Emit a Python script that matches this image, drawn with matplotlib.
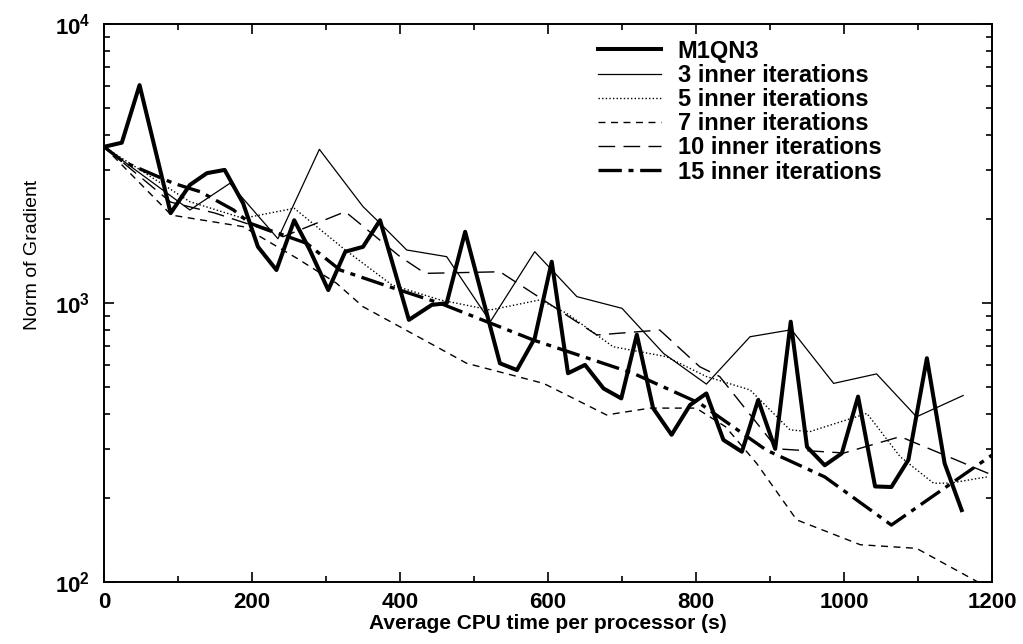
import matplotlib
matplotlib.use("Agg")
import matplotlib.pyplot as plt
from matplotlib.ticker import FixedLocator, NullFormatter

# values (x = CPU time in s, y = norm of gradient)
m1qn3_x = [0, 24, 48, 90, 116, 139, 163, 188, 208, 233, 257, 278, 303, 326, 350, 373,
           412, 443, 463, 488, 535, 558, 582, 605, 627, 650, 675, 699, 720, 742, 767,
           792, 814, 837, 862, 884, 907, 928, 950, 974, 997, 1019, 1042, 1064, 1087,
           1112, 1136, 1159]
m1qn3_y = [3630, 3755, 6040, 2100, 2650, 2920, 3000, 2275, 1590, 1313, 1980, 1550, 1113,
           1527, 1590, 1980, 870, 985, 998, 1800, 608, 575, 747, 1406, 560, 600, 494,
           455, 770, 420, 337, 431, 474, 323, 293, 449, 300, 857, 305, 262, 289, 462,
           220, 219, 274, 634, 266, 181]

inner3_x = [0, 116, 170, 235, 291, 350, 373, 409, 463, 522, 582, 639, 700, 756, 814,
            873, 929, 986, 1044, 1098, 1161]
inner3_y = [3630, 2155, 2685, 1700, 3555, 2215, 1932, 1549, 1466, 857, 1527, 1054, 957,
            660, 512, 757, 802, 515, 557, 391, 466]

inner5_x = [0, 116, 188, 257, 326, 389, 454, 522, 589, 625, 688, 760, 814, 873, 927,
            954, 1031, 1076, 1121, 1143, 1193]
inner5_y = [3630, 2307, 2012, 2185, 1549, 1161, 1026, 944, 1026, 919, 697, 642, 545,
            488, 351, 346, 402, 281, 226, 226, 238]

inner7_x = [0, 91, 188, 260, 314, 350, 445, 490, 594, 679, 738, 800, 840, 882, 936,
            1022, 1098, 1190]
inner7_y = [3630, 2066, 1878, 1450, 1178, 970, 707, 608, 515, 397, 420, 420, 360, 266,
            167, 136, 132, 97]

inner10_x = [0, 90, 150, 200, 242, 326, 400, 434, 535, 600, 666, 751, 805, 832, 910,
             1000, 1076, 1195]
inner10_y = [3630, 2300, 2100, 1900, 1729, 2125, 1466, 1277, 1294, 1000, 768, 800, 591,
             545, 300, 290, 332, 245]

inner15_x = [0, 26, 94, 130, 175, 197, 274, 319, 386, 454, 580, 715, 805, 895, 974,
             1064, 1139, 1200]
inner15_y = [3630, 3210, 2685, 2505, 2155, 1932, 1636, 1313, 1143, 998, 737, 560, 437,
             297, 238, 160, 220, 285]

labels = ["M1QN3", "3 inner iterations", "5 inner iterations", "7 inner iterations",
          "10 inner iterations", "15 inner iterations"]
xticks = [0, 200, 400, 600, 800, 1000, 1200]

plt.rcParams['font.family'] = ['Liberation Sans', 'DejaVu Sans']

fig = plt.figure(figsize=(10.23, 6.44), dpi=100)
ax = fig.add_axes([0.1017, 0.0963, 0.868, 0.8664])

ax.plot(m1qn3_x, m1qn3_y, color='black', lw=2.9, label=labels[0])
ax.plot(inner3_x, inner3_y, color='black', lw=0.9, label=labels[1])
ax.plot(inner5_x, inner5_y, color='black', lw=1.0, ls=(0, (1, 1.6)), label=labels[2])
ax.plot(inner7_x, inner7_y, color='black', lw=1.0, ls=(0, (5, 4)), label=labels[3])
ax.plot(inner10_x, inner10_y, color='black', lw=1.0, ls=(0, (12, 6)), label=labels[4])
ax.plot(inner15_x, inner15_y, color='black', lw=2.4, ls=(0, (7, 2, 1.5, 2)), label=labels[5])

ax.set_yscale('log')
ax.set_xlim(0, 1200)
ax.set_ylim(100, 10000)

ax.xaxis.set_major_locator(FixedLocator(xticks))
ax.xaxis.set_minor_locator(FixedLocator([100, 300, 500, 700, 900, 1100]))
ax.set_xticklabels([str(t) for t in xticks])
ax.yaxis.set_minor_formatter(NullFormatter())

ax.tick_params(which='both', direction='in', top=True, right=True, width=1.2)
ax.tick_params(which='major', length=7, labelsize=16)
ax.tick_params(axis='x', which='major', pad=7)
ax.tick_params(axis='y', which='major', pad=10)
ax.tick_params(which='minor', length=4)
for lab in ax.get_xticklabels() + ax.get_yticklabels():
    lab.set_fontweight('bold')
for sp in ax.spines.values():
    sp.set_linewidth(1.4)

ax.set_xlabel("Average CPU time per processor (s)", fontsize=15, fontweight='bold',
              labelpad=1)
ax.set_ylabel("Norm of Gradient", fontsize=14)
ax.yaxis.set_label_coords(-0.071, 0.586)

leg = ax.legend(loc='upper left', bbox_to_anchor=(0.556, 0.972), frameon=False,
                borderpad=0, borderaxespad=0,
                handlelength=2.7, handletextpad=0.68, labelspacing=0.05,
                prop={'size': 17, 'weight': 'bold'})

fig.savefig("out.png", dpi=100)
